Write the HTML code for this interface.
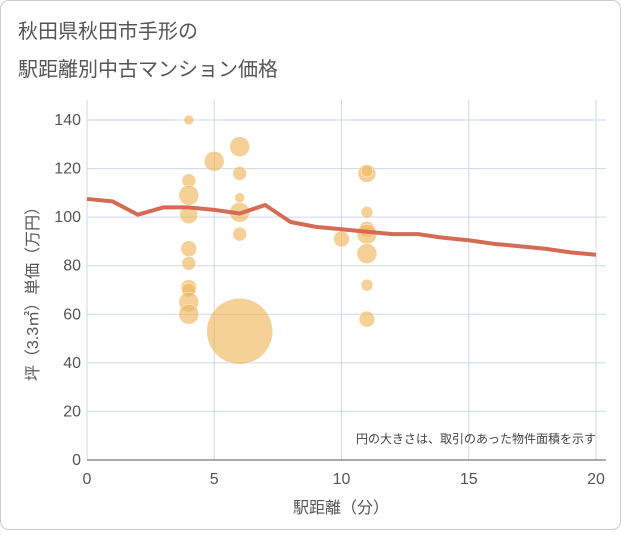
<!DOCTYPE html>
<html><head><meta charset="utf-8"><style>
body{margin:0;background:#fff}
svg text{font-family:"Liberation Sans","Noto Sans CJK JP",sans-serif}
</style></head><body>
<svg width="621" height="530" viewBox="0 0 621 530">
<rect x="0.5" y="0.5" width="620" height="529" rx="8" fill="#fff" stroke="#ccc"/>
<text x="18" y="38" font-size="20" fill="#555">秋田県秋田市手形の</text>
<text x="18" y="76" font-size="20" fill="#555">駅距離別中古マンション価格</text>
<g id="grid"></g>
<g id="bubbles"></g>
<g id="line"></g>
<g id="axes"></g>
<text x="596" y="443" font-size="12" fill="#444" text-anchor="end">円の大きさは、取引のあった物件面積を示す</text>
<text x="341" y="513" font-size="16" fill="#555" text-anchor="middle">駅距離（分）</text>
<text transform="translate(38,290) rotate(-90)" font-size="16" fill="#555" text-anchor="middle">坪（3.3㎡）単価（万円）</text>
</svg>
<script>
const xTicks=[0,5,10,15,20];
const yTicks=[0,20,40,60,80,100,120,140];
const bubbleX=[4,4,4,4,4,4,4,4,4,4,5,6,6,6,6,6,6,10,11,11,11,11,11,11,11,11];
const bubbleY=[140,115,109,101,87,81,71,70,65,60,123,129,118,108,102,93,53,91,118,119,102,95,93,85,72,58];
const bubbleR=[5,7,10,9,8,7,8,7,10,10,10,10,7,5,10,7,33,8,9,6,6,8,10,10,6,8];
const lineX=[0,1,2,3,4,5,6,7,8,9,10,11,12,13,14,15,16,17,18,19,20];
const lineY=[107.5,106.5,101,104,104,103,101.5,105,98,96,95,94,93,93,91.5,90.5,89,88,87,85.5,84.5];
const X0=87,X1=596,Y0=460,Y1=120;
const sx=v=>X0+(X1-X0)*v/20, sy=v=>Y0-(Y0-Y1)*v/140;
const NS="http://www.w3.org/2000/svg";
function mk(t,a,p){const e=document.createElementNS(NS,t);for(const k in a)e.setAttribute(k,a[k]);document.getElementById(p).appendChild(e);return e;}
const g=document.getElementById('grid');
yTicks.forEach(v=>{const l=mk('line',{x1:X0,x2:X1+10,y1:sy(v),y2:sy(v),stroke:'#d0d8e6','stroke-width':1},'grid');


const t=mk('text',{x:X0-6,y:sy(v)+5,'font-size':16,fill:'#555','text-anchor':'end'},'axes');t.textContent=v;

});
xTicks.forEach(v=>{const l=mk('line',{x1:sx(v),x2:sx(v),y1:100,y2:Y0,stroke:'#d0d8e6','stroke-width':1},'grid');


const t=mk('text',{x:sx(v),y:484,'font-size':16,fill:'#555','text-anchor':'middle'},'axes');t.textContent=v;

});
const ax=mk('line',{x1:X0,x2:X1+10,y1:Y0,y2:Y0,stroke:'#555','stroke-width':1},'axes');


bubbleX.forEach((x,i)=>{const c=mk('circle',{cx:sx(x),cy:sy(bubbleY[i]),r:bubbleR[i],fill:'rgba(240,185,95,0.65)',stroke:'#fff','stroke-width':0.5},'bubbles');

});
const p=mk('polyline',{points:lineX.map((x,i)=>sx(x)+','+sy(lineY[i])).join(' '),fill:'none',stroke:'#d46b55','stroke-width':4,'stroke-linejoin':'round'},'line');


</script>
</body></html>
